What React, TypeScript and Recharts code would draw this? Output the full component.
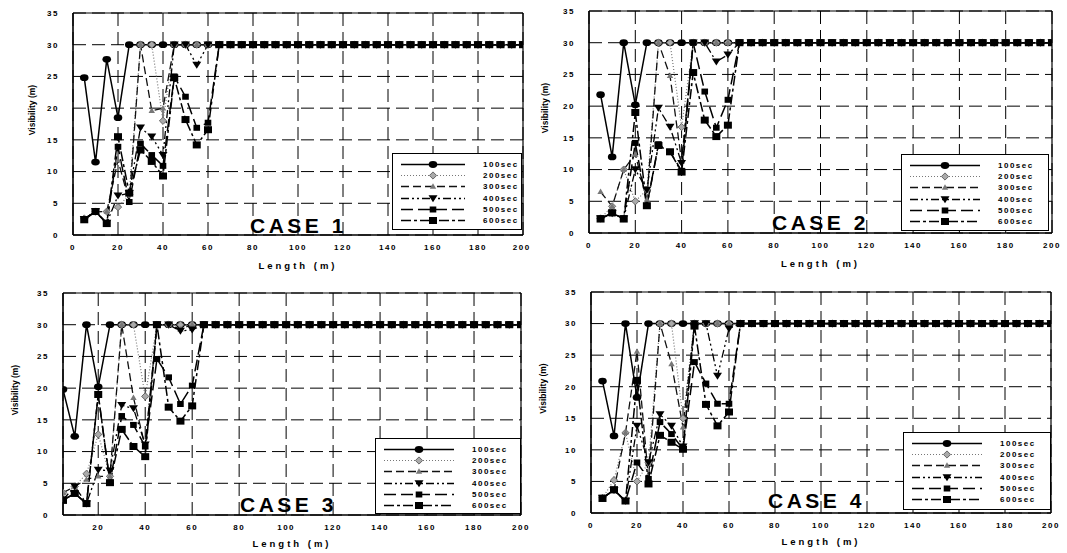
import React from 'react';
import { LineChart, Line, XAxis, YAxis, CartesianGrid, Legend, ReferenceLine } from 'recharts';

// tunnel length (m), one reading every 5 m
const LENGTHS = [
  5, 10, 15, 20, 25, 30, 35, 40, 45, 50, 55, 60, 65, 70, 75, 80, 85, 90, 95, 100,
  105, 110, 115, 120, 125, 130, 135, 140, 145, 150, 155, 160, 165, 170, 175, 180, 185, 190, 195, 200,
];
// from 70 m onward every series sits at the 30 m cap
const PLATEAU = [30, 30, 30, 30, 30, 30, 30, 30, 30, 30, 30, 30, 30, 30, 30, 30, 30, 30, 30, 30, 30, 30, 30, 30, 30, 30, 30];

const SERIES_NAMES = ['100sec', '200sec', '300sec', '400sec', '500sec', '600sec'];
const Y_TICKS = [0, 5, 10, 15, 20, 25, 30, 35];
const X_TICKS = [0, 20, 40, 60, 80, 100, 120, 140, 160, 180, 200];
const X_TICKS_NO_ZERO = [20, 40, 60, 80, 100, 120, 140, 160, 180, 200];

// values for 5..65 m
const case1_100 = [24.8, 11.5, 27.7, 18.5, 30, 30, 30, 30, 30, 30, 30, 30, 30];
const case1_200 = [2.6, 3.7, 3.7, 4.4, 6.4, 30, 30, 18, 30, 30, 30, 30, 30];
const case1_300 = [2.6, 3.7, 3.7, 11.8, 5.2, 30, 19.6, 20, 30, 30, 30, 30, 30];
const case1_400 = [2.5, 3.7, 1.9, 6.2, 6.6, 16.9, 15.5, 12.6, 30, 30, 26.8, 30, 30];
const case1_500 = [2.5, 3.7, 1.9, 13.9, 5.2, 14.4, 12.6, 10.9, 25, 21.8, 16.9, 17.7, 30];
const case1_600 = [2.4, 3.7, 1.8, 15.5, 6.6, 13.4, 11.6, 9.3, 24.8, 18.2, 14.2, 16.6, 30];

const case2_100 = [21.8, 12, 30, 20.2, 30, 30, 30, 30, 30, 30, 30, 30, 30];
const case2_200 = [2.3, 4.2, 10, 5, 6.8, 30, 30, 16.7, 30, 30, 30, 30, 30];
const case2_300 = [6.5, 4.2, 10, 12.4, 5.3, 30, 24.8, 11.3, 30, 30, 30, 30, 30];
const case2_400 = [2.3, 3.1, 2.3, 10, 6.8, 19.7, 16.7, 11, 30, 30, 27, 28.1, 30];
const case2_500 = [2.3, 3.1, 2.3, 14.2, 4.3, 14, 12.8, 9.8, 30, 22.3, 16.6, 21, 30];
const case2_600 = [2.2, 3.2, 2.2, 19, 4.3, 13.8, 12.8, 9.6, 25.3, 17.8, 15.2, 17, 30];

const case3_100 = [19.8, 12.4, 30, 20.2, 30, 30, 30, 30, 30, 30, 30, 30, 30];
const case3_200 = [3.5, 4.5, 6.5, 12.7, 6.1, 30, 30, 18.7, 30, 30, 30, 30, 30];
const case3_300 = [3.5, 4.5, 5.6, 6.1, 6.1, 30, 18.5, 10.8, 30, 30, 29.3, 30, 30];
const case3_400 = [2.4, 4.5, 1.8, 7.1, 7, 17.3, 16.8, 11.1, 30, 30, 29, 29.2, 30];
const case3_500 = [2.4, 3.4, 1.8, 19, 5.1, 15.6, 14.2, 10.8, 24.6, 21.7, 17.5, 20.4, 30];
const case3_600 = [2.3, 3.4, 1.8, 19, 5.1, 13.5, 10.8, 9.2, 30, 17, 14.8, 17.2, 30];

const case4_100 = [20.9, 12.2, 30, 18.3, 30, 30, 30, 30, 30, 30, 30, 30, 30];
const case4_200 = [2.4, 5.2, 12.7, 5, 8, 30, 30, 15, 30, 30, 30, 30, 30];
const case4_300 = [2.4, 3.6, 12.7, 25.6, 5.4, 30, 23.6, 13.6, 30, 30, 30, 30, 30];
const case4_400 = [2.4, 3.6, 1.9, 13.8, 8, 15.6, 13.8, 10.5, 30, 30, 21.7, 29.2, 30];
const case4_500 = [2.4, 3.6, 1.9, 8, 5.4, 14.4, 12.5, 10.1, 23.9, 20.5, 17.3, 17.3, 30];
const case4_600 = [2.3, 3.7, 1.9, 21, 4.6, 12.3, 11.2, 10.1, 29.6, 17.2, 13.8, 16, 30];

const KEYS = ['s100', 's200', 's300', 's400', 's500', 's600'];

const buildRows = (series: number[][]) =>
  LENGTHS.map((x, i) => {
    const row: Record<string, number> = { x };
    series.forEach((s, k) => {
      row[KEYS[k]] = s.concat(PLATEAU)[i];
    });
    return row;
  });

type MarkerKind = 'circle' | 'diamond' | 'tri' | 'triDown' | 'square' | 'bigSquare';

const STYLES: { key: string; stroke: string; width: number; dash?: string; marker: MarkerKind }[] = [
  { key: 's100', stroke: '#000', width: 1.5, marker: 'circle' },
  { key: 's200', stroke: '#777', width: 1.2, dash: '1 2', marker: 'diamond' },
  { key: 's300', stroke: '#111', width: 1.3, dash: '8 4', marker: 'tri' },
  { key: 's400', stroke: '#000', width: 1.3, dash: '8 3 2 3 2 3', marker: 'triDown' },
  { key: 's500', stroke: '#000', width: 1.5, dash: '12 5', marker: 'square' },
  { key: 's600', stroke: '#000', width: 1.5, dash: '10 3 3 3', marker: 'bigSquare' },
];

function Marker({ cx, cy, kind }: { cx?: number; cy?: number; kind: MarkerKind }) {
  if (cx == null || cy == null) return null;
  switch (kind) {
    case 'circle':
      return <ellipse cx={cx} cy={cy} rx={4.3} ry={3.4} fill="#000" />;
    case 'diamond':
      return (
        <polygon
          points={`${cx},${cy - 3.6} ${cx + 3.6},${cy} ${cx},${cy + 3.6} ${cx - 3.6},${cy}`}
          fill="#aaa"
          stroke="#666"
          strokeWidth={1}
        />
      );
    case 'tri':
      return (
        <polygon points={`${cx},${cy - 3.2} ${cx + 3.2},${cy + 2.3} ${cx - 3.2},${cy + 2.3}`} fill="#777" />
      );
    case 'triDown':
      return <polygon points={`${cx - 4.5},${cy - 3.2} ${cx + 4.5},${cy - 3.2} ${cx},${cy + 3.8}`} fill="#000" />;
    case 'square':
      return <rect x={cx - 3.3} y={cy - 3} width={6.6} height={6} fill="#000" />;
    default:
      return <rect x={cx - 4} y={cy - 3.5} width={8} height={7} fill="#000" />;
  }
}

const font = "'Liberation Sans', Arial, sans-serif";
const tickStyle = { fontSize: 8, fontWeight: 700, fill: '#000', fontFamily: font, letterSpacing: 1.5 };

const LegendBox = ({ width, height, sample }: { width: number; height: number; sample: number }) => (
  <div
    style={{
      width,
      height,
      boxSizing: 'border-box',
      border: '1.5px solid #000',
      background: '#fff',
      paddingTop: 5,
    }}
  >
    {STYLES.map((s, i) => (
      <div key={s.key} style={{ display: 'flex', alignItems: 'center', height: 11.2 }}>
        <svg width={sample + 16} height={11} style={{ display: 'block' }}>
          <line x1={8} x2={sample + 8} y1={5.5} y2={5.5} stroke={s.stroke} strokeWidth={s.width} strokeDasharray={s.dash} />
          <Marker cx={8 + sample / 2} cy={5.5} kind={s.marker} />
        </svg>
        <span
          style={{
            marginLeft: 10,
            fontFamily: font,
            fontWeight: 700,
            fontSize: 8,
            letterSpacing: 1.5,
            lineHeight: '11px',
          }}
        >
          {SERIES_NAMES[i]}
        </span>
      </div>
    ))}
  </div>
);

const PANELS = [
  {
    title: 'CASE 1',
    rows: buildRows([case1_100, case1_200, case1_300, case1_400, case1_500, case1_600]),
    left: 0, top: 0, width: 530, height: 276,
    yAxisWidth: 73, margin: { top: 13, right: 7, bottom: 3, left: 0 }, xHeight: 38,
    xDomain: [0, 200], xTicks: X_TICKS, yTitleX: 32,
    legend: { left: 392, top: 153, width: 130, height: 77, sample: 64 },
    caseAt: { left: 250, top: 215 },
  },
  {
    title: 'CASE 2',
    rows: buildRows([case2_100, case2_200, case2_300, case2_400, case2_500, case2_600]),
    left: 530, top: 0, width: 537, height: 276,
    yAxisWidth: 59, margin: { top: 11, right: 15, bottom: 5, left: 0 }, xHeight: 38,
    xDomain: [0, 200], xTicks: X_TICKS, yTitleX: 15,
    legend: { left: 371, top: 154, width: 148, height: 77, sample: 70 },
    caseAt: { left: 242, top: 212 },
  },
  {
    title: 'CASE 3',
    rows: buildRows([case3_100, case3_200, case3_300, case3_400, case3_500, case3_600]),
    left: 0, top: 276, width: 530, height: 277,
    yAxisWidth: 63, margin: { top: 17, right: 9, bottom: 2, left: 0 }, xHeight: 36,
    xDomain: [5, 200], xTicks: X_TICKS_NO_ZERO, yTitleX: 15,
    legend: { left: 375, top: 162, width: 146, height: 76, sample: 70 },
    caseAt: { left: 240, top: 218 },
  },
  {
    title: 'CASE 4',
    rows: buildRows([case4_100, case4_200, case4_300, case4_400, case4_500, case4_600]),
    left: 530, top: 276, width: 537, height: 277,
    yAxisWidth: 61, margin: { top: 16, right: 16, bottom: 4, left: 0 }, xHeight: 36,
    xDomain: [0, 200], xTicks: X_TICKS, yTitleX: 13,
    legend: { left: 373, top: 156, width: 148, height: 78, sample: 70 },
    caseAt: { left: 238, top: 214 },
  },
];

function Panel({ p }: { p: (typeof PANELS)[number] }) {
  return (
    <div style={{ position: 'absolute', left: p.left, top: p.top, width: p.width, height: p.height }}>
      <LineChart width={p.width} height={p.height} data={p.rows} margin={p.margin}>
        <CartesianGrid stroke="#000" strokeDasharray="13 6" strokeWidth={1} />
        <XAxis
          type="number"
          dataKey="x"
          domain={p.xDomain}
          ticks={p.xTicks}
          allowDataOverflow
          height={p.xHeight}
          tick={tickStyle}
          tickLine={false}
          tickSize={4}
          tickMargin={5}
          axisLine={{ stroke: '#000', strokeWidth: 1.6 }}
          label={({ viewBox }: any) => (
            <text
              x={viewBox.x + viewBox.width / 2}
              y={viewBox.y + viewBox.height - 4}
              textAnchor="middle"
              fontFamily={font}
              fontWeight={700}
              fontSize={9.5}
              letterSpacing={3}
            >
              Length (m)
            </text>
          )}
        />
        <YAxis
          type="number"
          domain={[0, 35]}
          ticks={Y_TICKS}
          width={p.yAxisWidth}
          tick={tickStyle}
          tickLine={false}
          tickSize={6}
          tickMargin={8}
          axisLine={{ stroke: '#000', strokeWidth: 1.6 }}
          label={({ viewBox }: any) => {
            const cy = viewBox.y + viewBox.height / 2 - 14;
            return (
              <text
                x={p.yTitleX}
                y={cy}
                transform={`rotate(-90 ${p.yTitleX} ${cy})`}
                textAnchor="middle"
                dominantBaseline="central"
                fontFamily={font}
                fontWeight={700}
                fontSize={8.5}
              >
                Visibility (m)
              </text>
            );
          }}
        />
        <ReferenceLine y={35} stroke="#000" strokeWidth={1} />
        <ReferenceLine x={200} stroke="#000" strokeWidth={1.2} />
        {STYLES.map((s) => (
          <Line
            key={s.key}
            type="linear"
            dataKey={s.key}
            stroke={s.stroke}
            strokeWidth={s.width}
            strokeDasharray={s.dash}
            isAnimationActive={false}
            dot={(d: any) => <Marker key={`${s.key}-${d.index}`} cx={d.cx} cy={d.cy} kind={s.marker} />}
            activeDot={false}
          />
        ))}
        <Legend
          layout="vertical"
          align="center"
          verticalAlign="middle"
          wrapperStyle={{ left: p.legend.left, top: p.legend.top, width: p.legend.width, height: p.legend.height }}
          content={() => <LegendBox width={p.legend.width} height={p.legend.height} sample={p.legend.sample} />}
        />
      </LineChart>
      <div
        style={{
          position: 'absolute',
          left: p.caseAt.left,
          top: p.caseAt.top,
          fontFamily: font,
          fontWeight: 700,
          fontSize: 21,
          lineHeight: '21px',
          letterSpacing: 3.5,
          whiteSpace: 'pre',
          color: '#000',
        }}
      >
        {p.title}
      </div>
    </div>
  );
}

export default function App() {
  return (
    <div style={{ position: 'absolute', left: 0, top: 0, width: 1067, height: 553, background: '#fff' }}>
      {PANELS.map((p) => (
        <Panel key={p.title} p={p} />
      ))}
    </div>
  );
}
